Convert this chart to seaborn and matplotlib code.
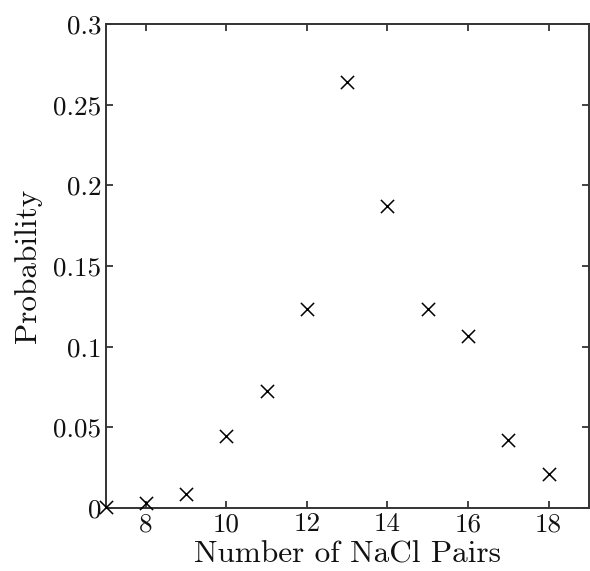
import matplotlib
matplotlib.use("Agg")
import matplotlib.pyplot as plt
import seaborn as sns
import pandas as pd

pairs = [7, 8, 9, 10, 11, 12, 13, 14, 15, 16, 17, 18]
probability = [0.0005, 0.003, 0.0087, 0.0445, 0.0725, 0.1235, 0.264, 0.1875, 0.1235, 0.1065, 0.042, 0.021]
xticks = [8, 10, 12, 14, 16, 18]
xtick_labels = ["8", "10", "12", "14", "16", "18"]
yticks = [0, 0.05, 0.1, 0.15, 0.2, 0.25, 0.3]
ytick_labels = ["0", "0.05", "0.1", "0.15", "0.2", "0.25", "0.3"]

sns.set_theme(style="ticks")
plt.rcParams["font.family"] = ["cmr10", "DejaVu Serif"]
plt.rcParams["mathtext.fontset"] = "cm"
plt.rcParams["axes.formatter.use_mathtext"] = True

df = pd.DataFrame({"pairs": pairs, "prob": probability})

fig = plt.figure(figsize=(5.9, 5.71), dpi=100)
ax = fig.add_axes([0.179, 0.110, 0.819, 0.848])
sns.scatterplot(data=df, x="pairs", y="prob", marker="x", color="black",
                s=90, linewidth=1.1, ax=ax, legend=False, clip_on=False, zorder=3)

ax.set_xlim(7, 19)
ax.set_ylim(0, 0.3)
ax.set_xticks(xticks)
ax.set_xticklabels(xtick_labels)
ax.set_yticks(yticks)
ax.set_yticklabels(ytick_labels)
ax.tick_params(direction="in", length=5, width=1.2, top=True, right=True,
               labelsize=19.5, colors="#222222", labelcolor="#111111", pad=3)
for sp in ax.spines.values():
    sp.set_visible(True)
    sp.set_linewidth(1.4)
    sp.set_color("#333333")
ax.set_xlabel("Number of NaCl Pairs", fontsize=22.5, color="#111111", labelpad=3)
ax.set_ylabel("Probability", fontsize=22.5, color="#111111", labelpad=8)

fig.savefig("out.png", dpi=100)
